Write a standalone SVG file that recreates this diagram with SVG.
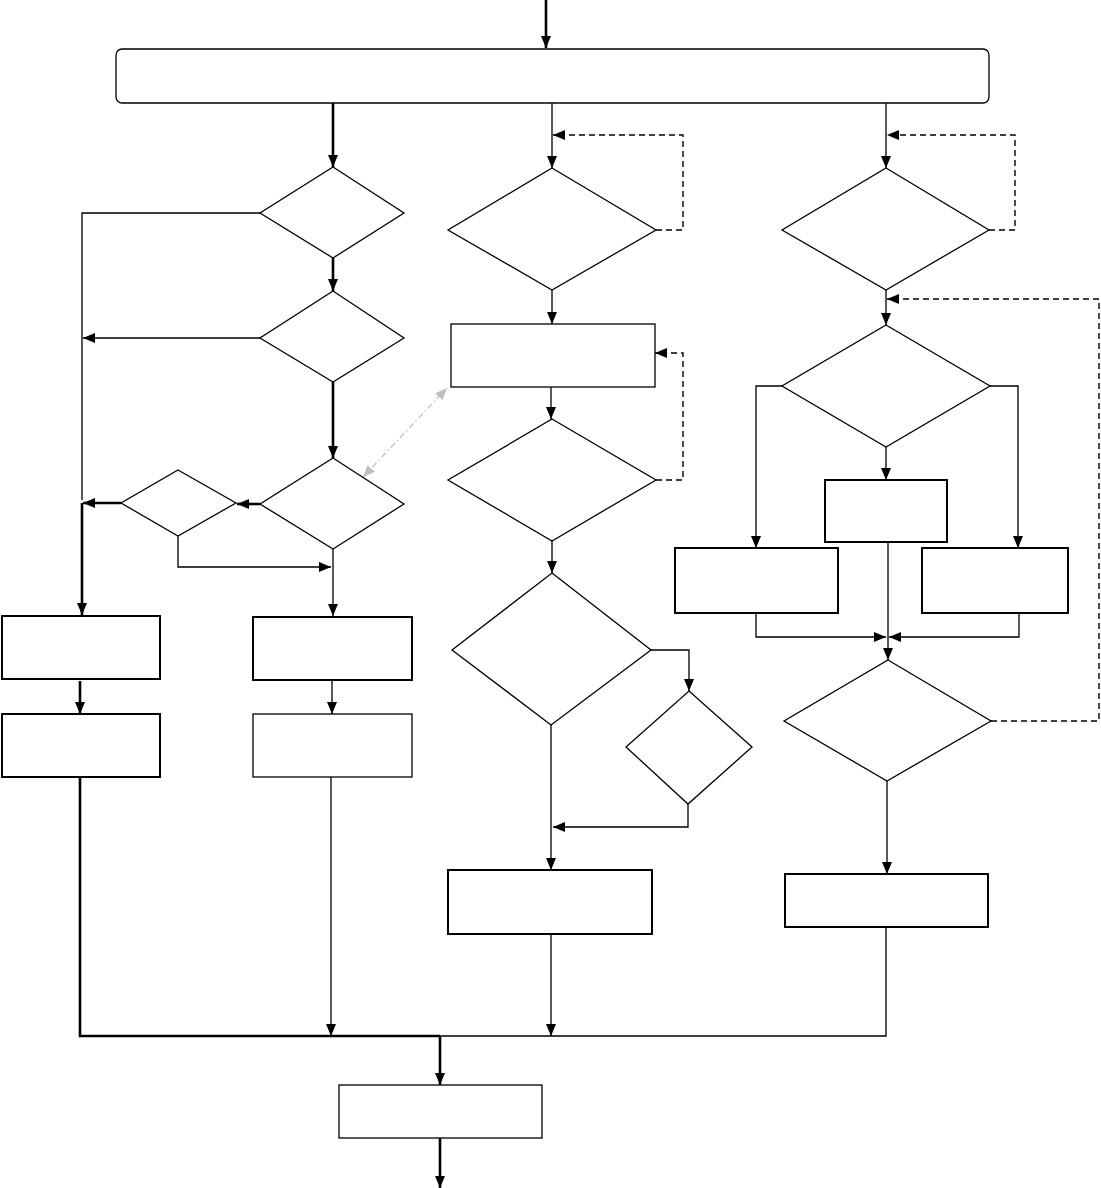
<svg xmlns="http://www.w3.org/2000/svg" width="1101" height="1188" viewBox="0 0 1101 1188">
<style>
.n{fill:#fff;stroke:#000;stroke-width:1.3}
.nb{fill:#fff;stroke:#000;stroke-width:2}
.c{fill:none;stroke:#000;stroke-width:1.3}
.ct{fill:none;stroke:#000;stroke-width:2.6}
.d{fill:none;stroke:#000;stroke-width:1.4;stroke-dasharray:6,4}
.g{fill:none;stroke:#c0c0c0;stroke-width:1.3;stroke-dasharray:6,3,1.5,3}
</style>
<defs>
<marker id="a" markerUnits="userSpaceOnUse" markerWidth="13" markerHeight="11" refX="12" refY="5.5" orient="auto"><path d="M0,0.5L12,5.5L0,10.5z" fill="#000"/></marker>
<marker id="ag" markerUnits="userSpaceOnUse" markerWidth="13" markerHeight="11" refX="12" refY="5.5" orient="auto-start-reverse"><path d="M0,0.5L12,5.5L0,10.5z" fill="#c0c0c0"/></marker>
</defs>
<g id="connectors">
<path class="ct" d="M546,0V48" marker-end="url(#a)"/>
<path class="ct" d="M333,103V167" marker-end="url(#a)"/>
<path class="c" d="M260,213H82V500"/>
<path class="ct" d="M333,258V291" marker-end="url(#a)"/>
<path class="c" d="M260,338H83" marker-end="url(#a)"/>
<path class="ct" d="M333,382V458" marker-end="url(#a)"/>
<path class="ct" d="M260,504H237" marker-end="url(#a)"/>
<path class="ct" d="M121,503H83" marker-end="url(#a)"/>
<path class="ct" d="M82,503V615" marker-end="url(#a)"/>
<path class="c" d="M178,536V567H331" marker-end="url(#a)"/>
<path class="c" d="M333,549V616" marker-end="url(#a)"/>
<path class="g" d="M363,477L447,388" marker-start="url(#ag)" marker-end="url(#ag)"/>
<path class="ct" d="M80,681V714" marker-end="url(#a)"/>
<path class="c" d="M332,680V714" marker-end="url(#a)"/>
<path class="ct" d="M80,777V1036H440"/>
<path class="ct" d="M440,1036V1085" marker-end="url(#a)"/>
<path class="c" d="M331,777V1036" marker-end="url(#a)"/>
<path class="c" d="M552,103V168" marker-end="url(#a)"/>
<path class="d" d="M656,230H683V135H553" marker-end="url(#a)"/>
<path class="c" d="M552,290V324" marker-end="url(#a)"/>
<path class="c" d="M551,387V419" marker-end="url(#a)"/>
<path class="d" d="M656,480H683V353H655" marker-end="url(#a)"/>
<path class="c" d="M552,541V573" marker-end="url(#a)"/>
<path class="c" d="M651,650H689V691" marker-end="url(#a)"/>
<path class="c" d="M688,804V827H553" marker-end="url(#a)"/>
<path class="c" d="M551,725V870" marker-end="url(#a)"/>
<path class="c" d="M551,934V1036" marker-end="url(#a)"/>
<path class="c" d="M886,103V168" marker-end="url(#a)"/>
<path class="d" d="M989,230H1015V135H887" marker-end="url(#a)"/>
<path class="c" d="M886,290V325" marker-end="url(#a)"/>
<path class="d" d="M991,721H1099V299H887" marker-end="url(#a)"/>
<path class="c" d="M782,386H756V548" marker-end="url(#a)"/>
<path class="c" d="M990,386H1018V548" marker-end="url(#a)"/>
<path class="c" d="M886,447V480" marker-end="url(#a)"/>
<path class="c" d="M756,613V637H886" marker-end="url(#a)"/>
<path class="c" d="M1019,613V637H889" marker-end="url(#a)"/>
<path class="c" d="M888,542V660" marker-end="url(#a)"/>
<path class="c" d="M887,781V874" marker-end="url(#a)"/>
<path class="c" d="M886,927V1036H440"/>
<path class="ct" d="M440,1138V1188" marker-end="url(#a)"/>
</g>
<g id="start"><rect class="n" x="116" y="49" width="873" height="54" rx="6"/></g>
<g id="d1"><path class="n" d="M333,167L404,213L333,258L260,213z"/></g>
<g id="d2"><path class="n" d="M333,291L404,338L333,382L260,338z"/></g>
<g id="d3"><path class="n" d="M333,458L404,504L333,549L260,504z"/></g>
<g id="d4"><path class="n" d="M178,470L236,503L178,536L121,503z"/></g>
<g id="b1"><rect class="nb" x="2" y="616" width="158" height="63"/></g>
<g id="b2"><rect class="nb" x="2" y="714" width="158" height="63"/></g>
<g id="b3"><rect class="nb" x="253" y="617" width="159" height="63"/></g>
<g id="b4"><rect class="n" x="253" y="714" width="159" height="63"/></g>
<g id="d5"><path class="n" d="M552,168L656,230L552,290L448,230z"/></g>
<g id="r1"><rect class="n" x="451" y="324" width="204" height="63"/></g>
<g id="d6"><path class="n" d="M552,419L656,480L552,541L448,480z"/></g>
<g id="d7"><path class="n" d="M552,573L651,650L551,725L452,650z"/></g>
<g id="d8"><path class="n" d="M689,691L752,747L688,804L626,747z"/></g>
<g id="r2"><rect class="nb" x="448" y="870" width="204" height="64"/></g>
<g id="d9"><path class="n" d="M886,168L989,230L886,290L782,230z"/></g>
<g id="d10"><path class="n" d="M886,325L990,386L886,447L782,386z"/></g>
<g id="r4"><rect class="nb" x="825" y="480" width="122" height="62"/></g>
<g id="r3"><rect class="nb" x="675" y="548" width="163" height="65"/></g>
<g id="r5"><rect class="nb" x="922" y="548" width="146" height="65"/></g>
<g id="d11"><path class="n" d="M888,660L991,721L887,781L784,721z"/></g>
<g id="r6"><rect class="nb" x="785" y="874" width="203" height="53"/></g>
<g id="end"><rect class="n" x="339" y="1085" width="203" height="53"/></g>
</svg>
